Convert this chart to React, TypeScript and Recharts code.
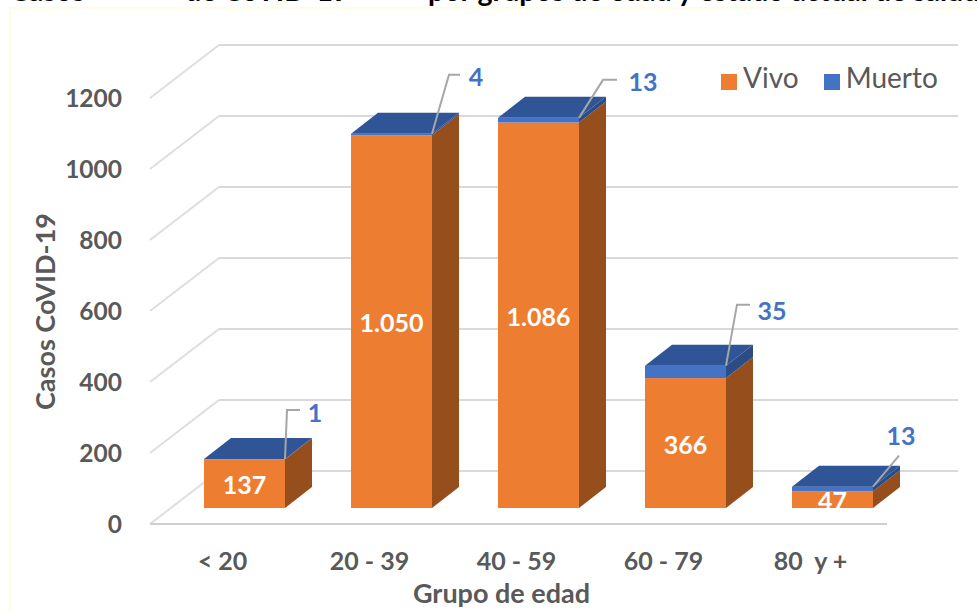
import { BarChart, Bar, XAxis, YAxis, CartesianGrid, LabelList, Legend } from 'recharts';

const categories = ['< 20', '20 - 39', '40 - 59', '60 - 79', '80  y +'];
const vivo = [137, 1050, 1086, 366, 47];
const muerto = [1, 4, 13, 35, 13];
const yTicks = [0, 200, 400, 600, 800, 1000, 1200];
const titleParts = ['Casos', 'de CoVID-19', 'por grupos de edad y estado actual de salud'];

const data = categories.map((group, i) => ({ group, vivo: vivo[i], muerto: muerto[i] }));

const FONT = 'Lato, sans-serif';
const GREY = '#595959';
const WIDTH = 977;
const HEIGHT = 613;
const MARGIN = { top: 82, right: 71, left: 0, bottom: 0 };
const X_AXIS_HEIGHT = 105;
const PLOT_BOTTOM = HEIGHT - X_AXIS_HEIGHT;

// fake 3D offsets, the bars sit half way into the floor
const BAR_DX = 27;
const BAR_DY = 21;

// elbow of each leader line, relative to the bar's top right corner, and where the number goes
const leaders = [
    { ex: 2, ey: -49, hx: 15, lx: 30, ly: -46 },
    { ex: 17, ey: -59, hx: 28, lx: 44, ly: -57 },
    { ex: 24, ey: -38, hx: 38, lx: 64, ly: -36 },
    { ex: 11, ey: -61, hx: 24, lx: 46, ly: -55 },
    { ex: 26, ey: -31, hx: 26, lx: 28, ly: -51 },
];

const GridLine = (props: any) => {
    const { x1, y1 } = props;
    const front = { x: x1 - 21, y: y1 + 16 };
    const back = { x: x1 + 48, y: y1 - 37 };
    const isFloor = Math.abs(y1 - PLOT_BOTTOM) < 1;
    return (
        <g key={props.key} fill="none">
            <path d={`M${front.x},${front.y}L${back.x},${back.y}`} stroke="#dedede" strokeWidth={2} />
            <path d={`M${back.x},${back.y}H${x1 + 787}`} stroke="#d9d9d9" strokeWidth={2.2} />
            {isFloor && <path d={`M${front.x},${front.y}H${x1 + 716}`} stroke="#cfcfcf" strokeWidth={2} />}
        </g>
    );
};

const Block = ({ x, y, width, height, front, side, top }: any) => (
    <g>
        <polygon
            points={`${x + width},${y} ${x + width + BAR_DX},${y - BAR_DY} ${x + width + BAR_DX},${y + height - BAR_DY} ${x + width},${y + height}`}
            fill={side}
        />
        <rect x={x} y={y} width={width} height={height} fill={front} />
        {top && (
            <polygon
                points={`${x},${y} ${x + BAR_DX},${y - BAR_DY} ${x + width + BAR_DX},${y - BAR_DY} ${x + width},${y}`}
                fill={top}
            />
        )}
    </g>
);

const VivoBar = (props: any) => <Block {...props} front="#ED7D31" side="#964F1C" />;
const MuertoBar = (props: any) => <Block {...props} front="#4472C4" side="#2C4C86" top="#2F5597" />;

const VivoLabel = ({ x, y, width, height, value, index }: any) => (
    <g>
        <clipPath id={`vivo-clip-${index}`}>
            <rect x={x} y={y} width={width} height={height} />
        </clipPath>
        <text
            x={x + width / 2}
            y={y + height / 2 + 10.5}
            textAnchor="middle"
            fill="#fff"
            fontFamily={FONT}
            fontWeight={700}
            fontSize={25}
            clipPath={`url(#vivo-clip-${index})`}
        >
            {value >= 1000 ? String(value).replace(/(\d)(\d{3})$/, '$1.$2') : value}
        </text>
    </g>
);

const MuertoLabel = ({ x, y, width, value, index }: any) => {
    const corner = x + width;
    const l = leaders[index];
    return (
        <g>
            <path
                d={`M${corner},${y}L${corner + l.ex},${y + l.ey}H${corner + l.hx}`}
                fill="none"
                stroke="#a6a6a6"
                strokeWidth={2}
            />
            <text
                x={corner + l.lx}
                y={y + l.ly + 9}
                textAnchor="middle"
                fill="#4472C4"
                fontFamily={FONT}
                fontWeight={700}
                fontSize={25}
            >
                {value}
            </text>
        </g>
    );
};

const YTick = ({ y, payload }: any) => (
    <text x={122} y={y + 25} textAnchor="end" fill={GREY} fontFamily={FONT} fontWeight={700} fontSize={24.5}>
        {payload.value}
    </text>
);

const XTick = ({ x, y, payload }: any) => (
    <text
        x={x - 22}
        y={y + 54}
        textAnchor="middle"
        fill={GREY}
        fontFamily={FONT}
        fontWeight={700}
        fontSize={25}
        style={{ whiteSpace: 'pre' }}
    >
        {payload.value}
    </text>
);

const legendText = (value: string) => (
    <span style={{ color: GREY, fontFamily: FONT, fontSize: 28, marginLeft: 2, marginRight: 15, position: 'relative', top: 2 }}>
        {value}
    </span>
);

const titleLefts = [10, 185, 428];

const App = () => {
    return (
        <div style={{ position: 'absolute', left: 0, top: 0, width: WIDTH, height: HEIGHT, overflow: 'hidden', background: '#fff' }}>
            {titleParts.map((part, i) => (
                <div
                    key={part}
                    style={{
                        position: 'absolute',
                        left: titleLefts[i],
                        top: -30,
                        fontFamily: FONT,
                        fontWeight: 700,
                        fontSize: 28.5,
                        lineHeight: '40px',
                        whiteSpace: 'nowrap',
                        color: '#000',
                    }}
                >
                    {part}
                </div>
            ))}
            <div
                style={{
                    position: 'absolute',
                    left: 9,
                    top: 7,
                    width: WIDTH,
                    height: HEIGHT,
                    borderLeft: '2px solid #fdfde4',
                    borderTop: '2px solid #fdfde4',
                }}
            />
            <div style={{ position: 'absolute', left: 0, top: 0 }}>
                <BarChart width={WIDTH} height={HEIGHT} data={data} margin={MARGIN} barSize={81}>
                    <CartesianGrid vertical={false} horizontal={GridLine} />
                    <XAxis
                        dataKey="group"
                        axisLine={false}
                        tickLine={false}
                        height={X_AXIS_HEIGHT}
                        interval={0}
                        tick={XTick}
                        label={{
                            value: 'Grupo de edad',
                            position: 'insideBottom',
                            dx: -37,
                            offset: 10,
                            fill: GREY,
                            fontFamily: FONT,
                            fontWeight: 700,
                            fontSize: 27,
                        }}
                    />
                    <YAxis
                        domain={[0, 1200]}
                        ticks={yTicks}
                        width={171}
                        axisLine={false}
                        tickLine={false}
                        tick={YTick}
                        label={{
                            value: 'Casos CoVID-19',
                            angle: -90,
                            position: 'insideLeft',
                            dx: 40,
                            dy: 115,
                            fill: GREY,
                            fontFamily: FONT,
                            fontWeight: 700,
                            fontSize: 27,
                        }}
                    />
                    <Legend
                        layout="horizontal"
                        verticalAlign="middle"
                        align="center"
                        iconType="square"
                        iconSize={16}
                        formatter={legendText}
                        itemSorter={(item: any) => (item.value === 'Vivo' ? 0 : 1)}
                        wrapperStyle={{ left: 709, top: 58, width: 266, textAlign: 'left' }}
                    />
                    <Bar dataKey="vivo" name="Vivo" stackId="casos" fill="#ED7D31" shape={VivoBar} isAnimationActive={false}>
                        <LabelList dataKey="vivo" content={VivoLabel} />
                    </Bar>
                    <Bar dataKey="muerto" name="Muerto" stackId="casos" fill="#4472C4" shape={MuertoBar} isAnimationActive={false}>
                        <LabelList dataKey="muerto" content={MuertoLabel} />
                    </Bar>
                </BarChart>
            </div>
        </div>
    );
};

export default App;
